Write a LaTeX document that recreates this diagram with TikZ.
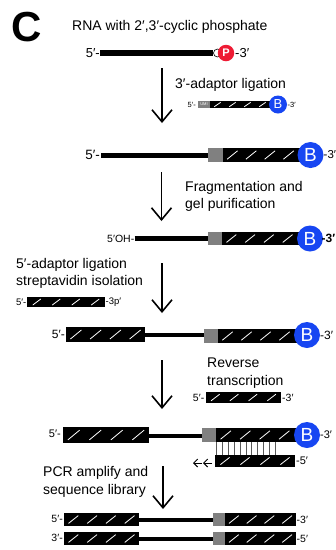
\documentclass[tikz,border=0pt]{standalone}
\usepackage{fontspec}
\setmainfont{Liberation Sans}
\usetikzlibrary{arrows.meta}
\definecolor{pred}{HTML}{EE1B34}
\definecolor{bblue}{HTML}{1746F2}
\definecolor{umigray}{HTML}{808080}
\tikzset{
  maintext/.style={font=\fontsize{14}{17}\selectfont, inner sep=0pt, anchor=base west},
  lbl/.style={font=\fontsize{11}{13}\selectfont, inner sep=0pt},
  stepar/.style={line width=1.6pt, -{Straight Barb[length=12pt,width=20pt,line width=1.6pt]}},
  bcirc/.style={circle, fill=bblue, text=white, inner sep=0pt, minimum size=26pt, font=\fontsize{19}{19}\selectfont},
  bsmall/.style={circle, fill=bblue, text=white, inner sep=0pt, minimum size=18pt, font=\fontsize{13}{13}\selectfont},
  pcirc/.style={circle, fill=pred, text=white, inner sep=0pt, minimum size=16.5pt, font=\bfseries\fontsize{11}{11}\selectfont},
  thickstrand/.style={line width=5.5pt},
  thinstrand/.style={line width=4pt},
}
\newcommand\hatchbox[5]{%
  \fill[black] (#1,#3-#4/2) rectangle (#2,#3+#4/2);
  \foreach \k in {1,2,3,4}{%
    \pgfmathsetmacro\xc{#1+(#5-#1)*(\k-0.5)/4}%
    \draw[white,line width=0.8pt] ({\xc-0.3*#4-1},{#3+0.3*#4}) -- ({\xc+0.3*#4+1},{#3-0.3*#4});
  }}
\newcommand\graybox[4]{\fill[umigray] (#1,#3-#4/2) rectangle (#2,#3+#4/2);}
\begin{document}
\begin{tikzpicture}[x=1pt,y=-1pt]
\useasboundingbox (0,0) rectangle (336,550);

% panel letter
\node[font=\bfseries\fontsize{42}{42}\selectfont, inner sep=0pt] (panel) at (27,27) {C};

% ---- row 1: RNA
\node[maintext] (t1) at (72,30.5) {RNA with 2′,3′-cyclic phosphate};
\coordinate (r1a) at (100,53);
\coordinate (r1b) at (213,53);
\draw[thickstrand] (r1a) -- (r1b);
\filldraw[fill=white,draw=black,line width=0.6pt] (217.5,53) circle (4);
\node[pcirc] (p1) at (226,53) {P};
\node[lbl, font=\fontsize{13}{15}\selectfont, anchor=east] (l1a) at (100,53) {5′-};
\node[lbl, font=\fontsize{13}{15}\selectfont, anchor=west] (l1b) at (235,53) {-3′};

% arrow 1
\coordinate (a1s) at (162,68);
\coordinate (a1e) at (162,123);
\draw[stepar] (a1s) -- (a1e);

% ---- row 2: 3' adaptor
\node[maintext] (t2) at (175,88.5) {3′-adaptor ligation};
\graybox{198}{210}{104.5}{7.5}
\node[text=white, font=\fontsize{4}{4}\selectfont, inner sep=0pt] (umi) at (204,104.5) {UMI};
\hatchbox{210}{274}{104.5}{7.5}{270}
\node[bsmall] (b2) at (278,104.5) {B};
\node[lbl, font=\fontsize{7.5}{9}\selectfont, anchor=east] (l2a) at (196,104.5) {5′-};
\node[lbl, font=\fontsize{7.5}{9}\selectfont, anchor=west] (l2b) at (287.5,104.5) {-3′};

% ---- row 3: ligated
\coordinate (r3a) at (101,155.5);
\coordinate (r3b) at (208,155.5);
\draw[thickstrand] (r3a) -- (r3b);
\graybox{208}{223}{155}{14}
\hatchbox{223}{304}{155}{14}{298}
\node[bcirc] (b3) at (310.5,155) {B};
\node[lbl, font=\fontsize{13.5}{15}\selectfont, anchor=east] (l3a) at (100,155) {5′-};
\node[lbl, font=\fontsize{11.5}{14}\selectfont, anchor=west] (l3b) at (323.5,155) {-3′};

% arrow 2
\coordinate (a2s) at (161.5,172);
\coordinate (a2e) at (161.5,221);
\draw[stepar] (a2s) -- (a2e);
\node[maintext] (t3a) at (185,191) {Fragmentation and};
\node[maintext] (t3b) at (185,208.5) {gel purification};

% ---- row 4: fragment
\coordinate (r4a) at (134.5,238.5);
\coordinate (r4b) at (208,238.5);
\draw[thickstrand] (r4a) -- (r4b);
\graybox{208}{222}{238.5}{13}
\hatchbox{222}{302}{238.5}{13}{297}
\node[bcirc] (b4) at (310,238.5) {B};
\node[lbl, font=\fontsize{10.5}{12}\selectfont, anchor=east] (l4a) at (134.5,238.5) {5′OH-};
\node[lbl, font=\bfseries\fontsize{12}{14}\selectfont, anchor=west] (l4b) at (321.5,238.5) {-3′};

% arrow 3
\coordinate (a3s) at (162,263);
\coordinate (a3e) at (162,313);
\draw[stepar] (a3s) -- (a3e);
\node[maintext] (t4a) at (16,268) {5′-adaptor ligation};
\node[maintext] (t4b) at (16,285.5) {streptavidin isolation};

% 5' adaptor
\hatchbox{27}{105}{302}{10}{105}
\node[lbl, font=\fontsize{9.5}{11}\selectfont, anchor=east] (l5a) at (26.5,302) {5′-};
\node[lbl, font=\fontsize{9.5}{11}\selectfont, anchor=west] (l5b) at (105.5,302) {-3p′};

% ---- row 5
\hatchbox{66}{145}{334.5}{15}{145}
\coordinate (r5a) at (145,335);
\coordinate (r5b) at (204,335);
\draw[thinstrand] (r5a) -- (r5b);
\graybox{204}{218}{336}{14}
\hatchbox{218}{300}{336}{14}{294}
\node[bcirc] (b5) at (307,335) {B};
\node[lbl, font=\fontsize{12}{14}\selectfont, anchor=east] (l6a) at (65,334.5) {5′-};
\node[lbl, font=\fontsize{12}{14}\selectfont, anchor=west] (l6b) at (320,335) {-3′};

% arrow 4
\coordinate (a4s) at (162,360);
\coordinate (a4e) at (162,409);
\draw[stepar] (a4s) -- (a4e);
\node[maintext] (t5a) at (207,367.5) {Reverse};
\node[maintext] (t5b) at (207,385) {transcription};

% RT primer
\hatchbox{206}{281}{397.5}{11}{281}
\node[lbl, font=\fontsize{10.5}{12}\selectfont, anchor=east] (l7a) at (204.5,397.5) {5′-};
\node[lbl, font=\fontsize{10.5}{12}\selectfont, anchor=west] (l7b) at (282,397.5) {-3′};

% ---- row 6: RT
\hatchbox{63}{149}{435}{16}{149}
\coordinate (r6a) at (149,435.5);
\coordinate (r6b) at (202,435.5);
\draw[thinstrand] (r6a) -- (r6b);
\graybox{202}{216}{435}{14}
\hatchbox{216}{300}{435}{14}{294}
\node[bcirc] (b6) at (307,435) {B};
\node[lbl, font=\fontsize{11}{13}\selectfont, anchor=east] (l8a) at (61,433.5) {5′-};
\node[lbl, font=\fontsize{11}{13}\selectfont, anchor=west] (l8b) at (320,435) {-3′};
\foreach \k in {0,...,10}{
  \draw[black!65,line width=0.6pt] ({216.7+5.83*\k},442) -- ({216.7+5.83*\k},455);
}
\hatchbox{215}{295}{461}{12}{295}
\node[lbl, font=\fontsize{11}{13}\selectfont, anchor=west] (l8c) at (296,461) {-5′};
\coordinate (c1s) at (202,463);
\coordinate (c1e) at (193,463);
\coordinate (c2s) at (212,463);
\coordinate (c2e) at (203,463);
\draw[line width=1pt, -{Straight Barb[length=4pt,width=8pt,line width=1pt]}] (c1s) -- (c1e);
\draw[line width=1pt, -{Straight Barb[length=4pt,width=8pt,line width=1pt]}] (c2s) -- (c2e);

% arrow 5
\coordinate (a5s) at (163,466);
\coordinate (a5e) at (163,509);
\draw[stepar] (a5s) -- (a5e);
\node[maintext] (t6a) at (43,476.5) {PCR amplify and};
\node[maintext] (t6b) at (43,494) {sequence library};

% ---- row 7: library
\hatchbox{64}{139}{519.5}{13}{139}
\coordinate (r7a) at (139,519.5);
\coordinate (r7b) at (213,519.5);
\draw[thinstrand] (r7a) -- (r7b);
\graybox{213}{225}{519.5}{13}
\hatchbox{225}{296}{519.5}{13}{296}
\node[lbl, font=\fontsize{10.5}{12}\selectfont, anchor=east] (l9a) at (63,519) {5′-};
\node[lbl, font=\fontsize{10.5}{12}\selectfont, anchor=west] (l9b) at (296.5,519.5) {-3′};

\hatchbox{64}{139}{538.5}{13}{139}
\coordinate (r8a) at (139,538.5);
\coordinate (r8b) at (213,538.5);
\draw[thinstrand] (r8a) -- (r8b);
\graybox{213}{225}{538.5}{13}
\hatchbox{225}{296}{538.5}{13}{296}
\node[lbl, font=\fontsize{10.5}{12}\selectfont, anchor=east] (l10a) at (63,538) {3′-};
\node[lbl, font=\fontsize{10.5}{12}\selectfont, anchor=west] (l10b) at (296.5,538.5) {-5′};
\end{tikzpicture}
\end{document}
